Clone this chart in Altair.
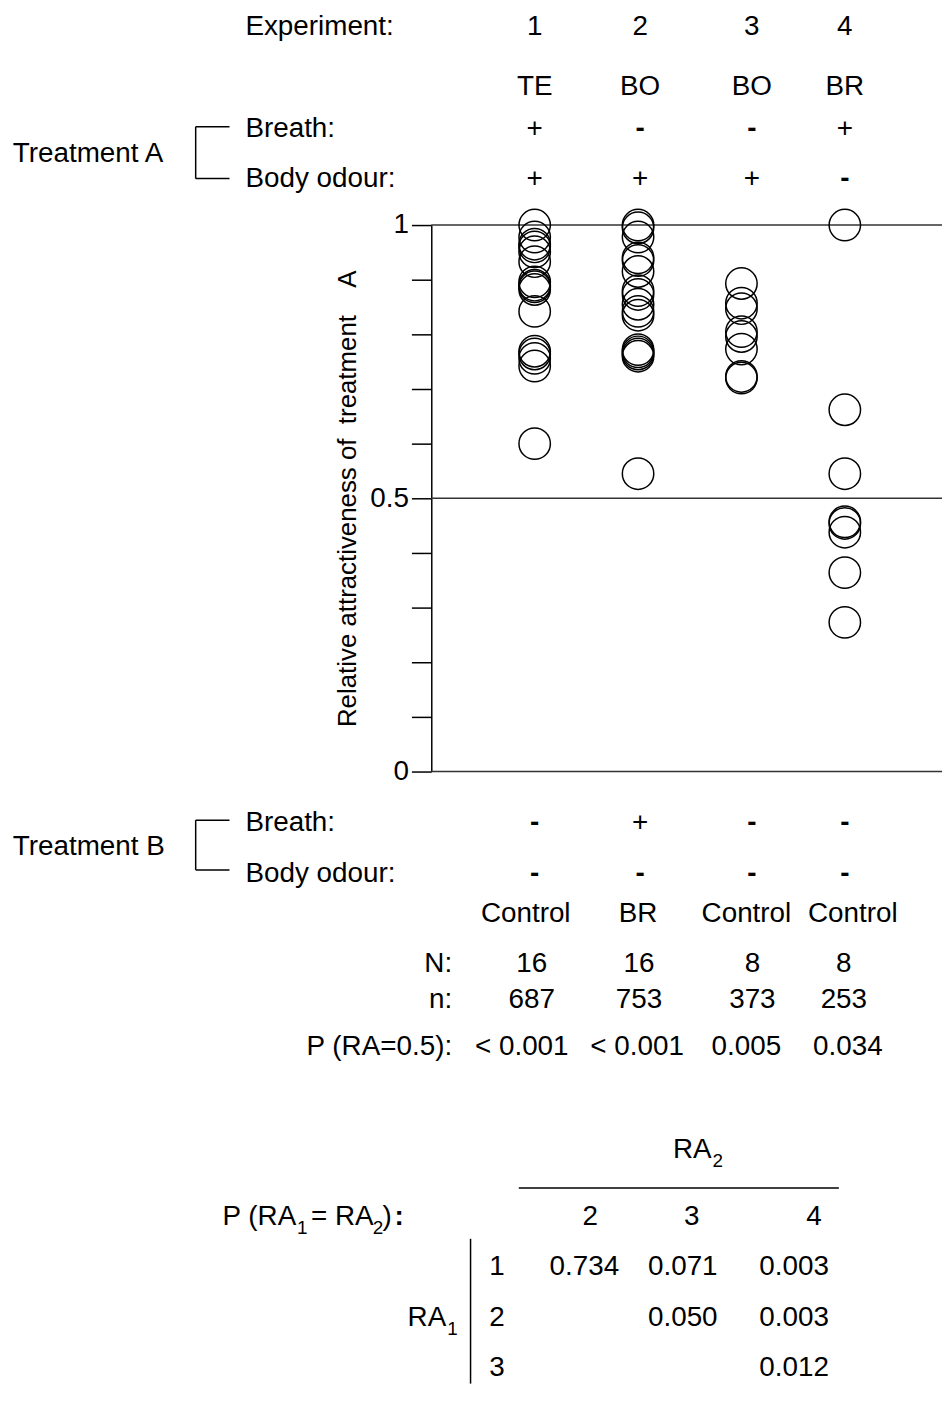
import altair as alt
import pandas as pd

# ---------------- data ----------------
experiments = [1, 2, 3, 4]
ra_exp1 = [1.0, 0.978, 0.965, 0.96, 0.951, 0.933, 0.896, 0.89, 0.887, 0.882,
           0.842, 0.769, 0.764, 0.756, 0.742, 0.6]
ra_exp2 = [1.0, 0.995, 0.978, 0.94, 0.935, 0.915, 0.88, 0.873, 0.855, 0.842,
           0.835, 0.772, 0.768, 0.764, 0.76, 0.545]
ra_exp3 = [0.893, 0.857, 0.847, 0.805, 0.796, 0.773, 0.723, 0.72]
ra_exp4 = [1.0, 0.662, 0.545, 0.457, 0.454, 0.438, 0.364, 0.273]

exp_numbers = ["1", "2", "3", "4"]
treat_a_type = ["TE", "BO", "BO", "BR"]
breath_a = ["+", "-", "-", "+"]
body_a = ["+", "+", "+", "-"]
breath_b = ["-", "+", "-", "-"]
body_b = ["-", "-", "-", "-"]
treat_b_type = ["Control", "BR", "Control", "Control"]
n_subjects = ["16", "16", "8", "8"]
n_choices = ["687", "753", "373", "253"]
p_half = ["< 0.001", "< 0.001", "0.005", "0.034"]

ra2_cols = ["2", "3", "4"]
ra1_rows = ["1", "2", "3"]
p_pairs = [["0.734", "0.071", "0.003"],
           ["", "0.050", "0.003"],
           ["", "", "0.012"]]

y_ticks = [round(i * 0.1, 1) for i in range(11)]
ref_lines = [0, 0.5, 1]

# ---------------- layout (data units) ----------------
PX = 104.0  # pixels per x unit


def px(p):
    return (p - 433) / PX


X_MAX = 4.94
TXT_X = [1.0, 2.02, 3.1, 4.0]
CTRL_X = [px(528), px(641), px(750), px(857)]
NUM_X = [px(534), px(642), px(756), px(848)]
PV_X = [px(524), px(640), px(750), px(852)]
ROW = dict(exp=1.362, typ=1.253, breath_a=1.176, body_a=1.084, treat_a=1.13,
           breath_b=-0.0945, body_b=-0.187, treat_b=-0.138, typ_b=-0.26,
           N=-0.353, n=-0.418, p=-0.505, ra2=-0.6927, hline=-0.762,
           head=-0.816, r1=-0.906, r2=-1.0, r3=-1.091)
LABEL_X = px(246)
TREAT_X = px(12)
STAT_X = px(454)
HEAD_X = [px(593), px(695), px(818)]
VAL_X = [px(587), px(686), px(798)]
FONT = "Liberation Sans"
FS = 28
SUB_FS = 19
SUB_DY = 11

pts = pd.DataFrame(
    [{"exp": e, "ra": v} for e, vals in zip(experiments, [ra_exp1, ra_exp2, ra_exp3, ra_exp4]) for v in vals]
)

xs = alt.Scale(domain=[0, X_MAX], nice=False, zero=False)
ys = alt.Scale(domain=[0, 1], nice=False, zero=False)

AX = alt.Axis(
    values=y_ticks, tickSize=20, tickColor="black", tickWidth=1.5,
    domainColor="black", domainWidth=1.5, grid=False,
    labelExpr="datum.value == 0 ? '0' : datum.value == 0.5 ? '0.5' : datum.value == 1 ? '1' : ''",
    labelFont=FONT, labelFontSize=FS, labelColor="black", labelPadding=3,
    title="Relative attractiveness of\u00a0 treatment\u00a0\u00a0\u00a0 A",
    titleFont=FONT, titleFontSize=26, titleFontWeight="normal", titleColor="black",
    titlePadding=9,
)


def X(field):
    return alt.X(field, scale=xs, axis=None)


def Y(field):
    return alt.Y(field, scale=ys, axis=AX)


def text_layer(rows, align="center", weight="normal", size=FS, dy=0):
    df = pd.DataFrame(rows, columns=["x", "y", "t"])
    return alt.Chart(df).mark_text(
        align=align, baseline="middle", font=FONT, fontSize=size,
        fontWeight=weight, color="black", dy=dy
    ).encode(x=X("x:Q"), y=Y("y:Q"), text="t:N")


def rule_layer(rows, width=1.5, color="black"):
    df = pd.DataFrame(rows, columns=["x", "x2", "y", "y2"])
    return alt.Chart(df).mark_rule(color=color, strokeWidth=width).encode(
        x=X("x:Q"), x2="x2:Q", y=Y("y:Q"), y2="y2:Q",
    )


# centered regular texts
center_rows = []
signs_bold = []
for i in range(4):
    cx = TXT_X[i]
    center_rows.append((cx, ROW["exp"], exp_numbers[i]))
    center_rows.append((cx, ROW["typ"], treat_a_type[i]))
    center_rows.append((CTRL_X[i], ROW["typ_b"], treat_b_type[i]))
    center_rows.append((NUM_X[i], ROW["N"], n_subjects[i]))
    center_rows.append((NUM_X[i], ROW["n"], n_choices[i]))
    center_rows.append((PV_X[i], ROW["p"], p_half[i]))
    for key, lst in [("breath_a", breath_a), ("body_a", body_a),
                     ("breath_b", breath_b), ("body_b", body_b)]:
        if lst[i] == "+":
            center_rows.append((cx, ROW[key], "+"))
        else:
            signs_bold.append((cx, ROW[key], "-"))

for j, c in enumerate(ra2_cols):
    center_rows.append((HEAD_X[j], ROW["head"], c))
for r, rl in enumerate(ra1_rows):
    ry = ROW["r%d" % (r + 1)]
    center_rows.append((px(499), ry, rl))
    for j, val in enumerate(p_pairs[r]):
        if val:
            center_rows.append((VAL_X[j], ry, val))

left_rows = [
    (LABEL_X, ROW["exp"], "Experiment:"),
    (LABEL_X, ROW["breath_a"], "Breath:"),
    (LABEL_X, ROW["body_a"], "Body odour:"),
    (TREAT_X, ROW["treat_a"], "Treatment A"),
    (LABEL_X, ROW["breath_b"], "Breath:"),
    (LABEL_X, ROW["body_b"], "Body odour:"),
    (TREAT_X, ROW["treat_b"], "Treatment B"),
    (px(223), ROW["head"], "P (RA"),
    (px(312), ROW["head"], "= RA"),
    (px(384), ROW["head"], ")"),
]
bold_left_rows = [(px(396), ROW["head"], ":")]
right_rows = [
    (STAT_X, ROW["N"], "N:"),
    (STAT_X, ROW["n"], "n:"),
    (STAT_X, ROW["p"], "P (RA=0.5):"),
    (px(448), ROW["r2"], "RA"),
    (px(715), ROW["ra2"], "RA"),
]
sub_rows = [
    (px(449), ROW["r2"], "1"),
    (px(716), ROW["ra2"], "2"),
    (px(298), ROW["head"], "1"),
    (px(374), ROW["head"], "2"),
]

ref_rules = [(0, X_MAX, v, v) for v in ref_lines]
BR0, BR1 = px(196), px(230)
bracket_rules = [
    (BR0, BR0, 1.18, 1.085), (BR0, BR1, 1.18, 1.18), (BR0, BR1, 1.085, 1.085),
    (BR0, BR0, -0.089, -0.18), (BR0, BR1, -0.089, -0.089), (BR0, BR1, -0.18, -0.18),
]
table_rules = [(px(521), px(843), ROW["hline"], ROW["hline"]),
               (px(472.5), px(472.5), -0.855, -1.12)]

points = alt.Chart(pts).mark_point(
    shape="circle", filled=False, size=1000, stroke="black", strokeWidth=1.5, opacity=1
).encode(x=X("exp:Q"), y=Y("ra:Q"))

chart = alt.layer(
    rule_layer(ref_rules, width=1.5, color="#333"),
    points,
    rule_layer(bracket_rules, width=1.5),
    rule_layer(table_rules, width=1.5),
    text_layer(center_rows),
    text_layer(signs_bold, weight="bold"),
    text_layer(left_rows, align="left"),
    text_layer(bold_left_rows, align="left", weight="bold"),
    text_layer(right_rows, align="right"),
    text_layer(sub_rows, align="left", size=SUB_FS, dy=SUB_DY),
).properties(
    width=514, height=550,
    padding={"left": 4, "top": 0, "right": 0, "bottom": 4},
).configure_view(stroke=None)

chart.save("out.html", embed_options={"renderer": "svg", "actions": False})
